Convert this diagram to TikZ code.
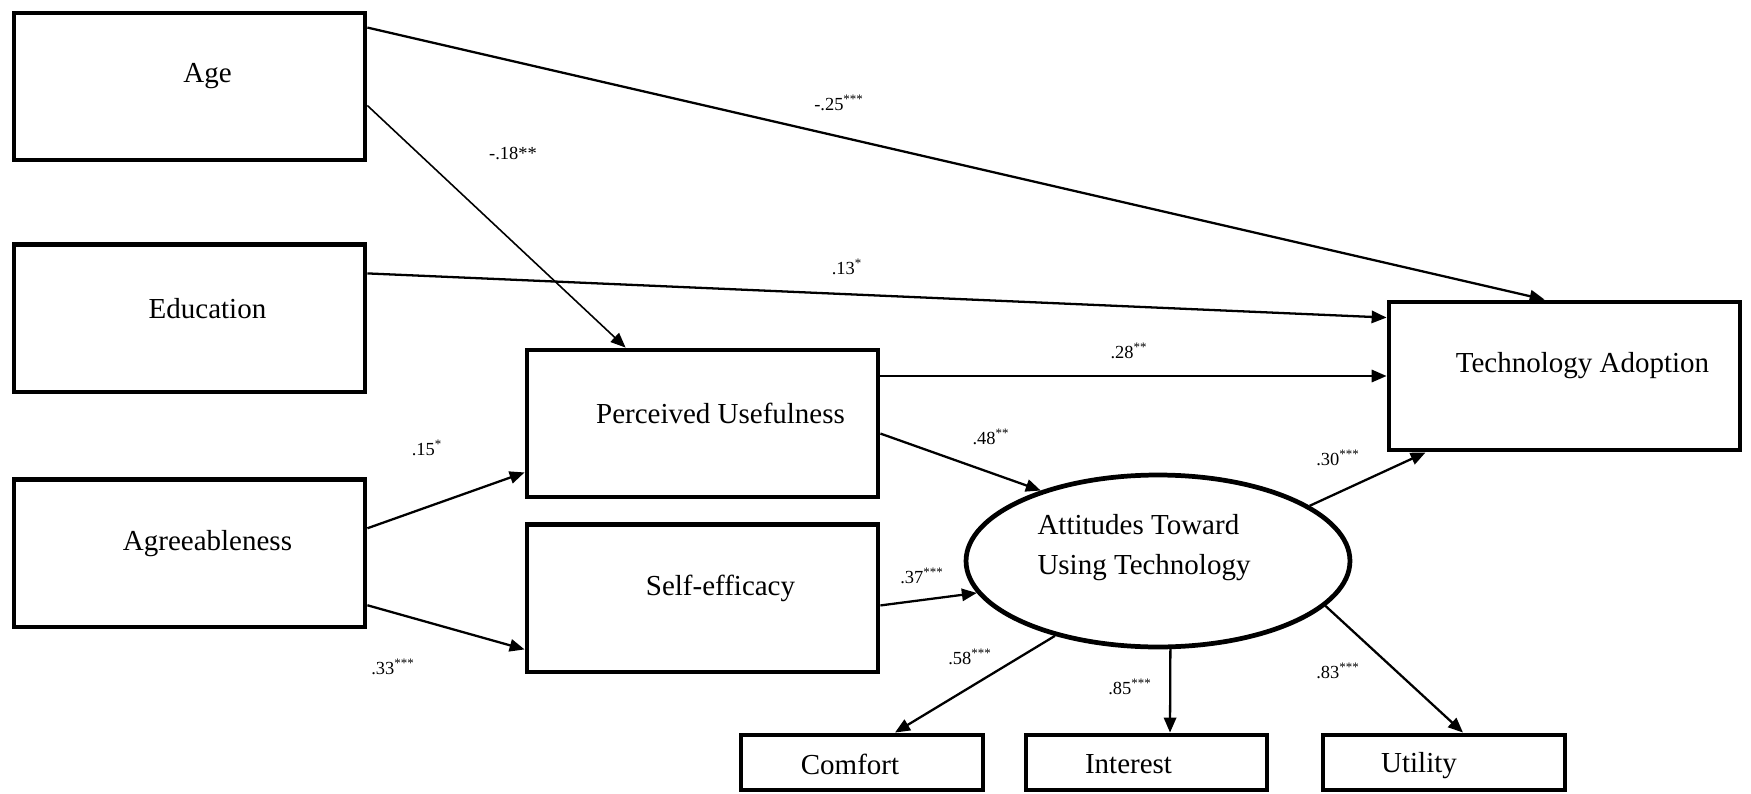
\documentclass[tikz,border=0pt]{standalone}
\usepackage{fontspec}
\setmainfont{Liberation Serif}
\usetikzlibrary{positioning,calc,arrows.meta,shapes.geometric}

\tikzset{
  box/.style={draw, line width=2.5pt, minimum width=7.03cm, minimum height=2.95cm},
  obs/.style={draw, line width=2.5pt, minimum width=4.83cm, minimum height=1.11cm},
  latent/.style={draw, ellipse, line width=2.7pt, minimum width=7.68cm, minimum height=3.44cm},
  lbl/.style={font=\fontsize{16.5}{22.7}\selectfont, shift={(18,-10)}},
  coef/.style={font=\fontsize{10.5}{12}\selectfont, inner sep=0pt},
  arr/.style={line width=1.3pt, -{Triangle[length=8.5pt, width=7pt]}},
}

\begin{document}
\begin{tikzpicture}[x=0.02cm, y=-0.02cm]
    \useasboundingbox (0,0) rectangle (1751,794);
    %% left column
    \node[box, label={[lbl, name=age-l]center:Age}] (age) at (189.5,86.5) {};
    \node[box, below=1.6cm of age, label={[lbl, name=edu-l]center:Education}] (edu) {};
    \node[box, below=1.66cm of edu, label={[lbl, name=agr-l]center:Agreeableness}] (agr) {};
    %% mediators
    \node[box, label={[lbl, name=pu-l]center:Perceived Usefulness}] (pu) at (702.5,423.5) {};
    \node[box, below=0.46cm of pu, label={[lbl, name=se-l]center:Self-efficacy}] (se) {};
    \node[box, minimum height=2.97cm, label={[lbl, name=ta-l]center:Technology Adoption}] (ta) at (1564.5,376) {};
    \node[latent, label={[lbl, align=left, shift={(-32,-3)}, name=att-l]center:Attitudes Toward\\Using Technology}] (att) at (1158,561) {};
    %% indicators
    \node[obs, label={[lbl, shift={(-30,12)}, name=com-l]center:Comfort}] (com) at (862,762.5) {};
    \node[obs, label={[lbl, shift={(-36,12)}, name=int-l]center:Interest}] (int) at (1146.5,762.5) {};
    \node[obs, label={[lbl, shift={(-43,13)}, name=uti-l]center:Utility}] (uti) at (1444,762.5) {};

    \draw[arr] ($(age.north east)+(0,17)$) -- ($(ta.north west)+(158,0)$);
    \draw[arr, line width=0.9pt] ($(age.north east)+(0,95)$) -- ($(pu.north west)+(101,0)$);
    \draw[arr] ($(edu.north east)+(0,31)$) -- ($(ta.north west)+(0,18)$);
    \draw[arr] (pu.east |- ta.west) -- (ta.west);
    \draw[arr] ($(pu.north east)+(0,86)$) -- (att.149);
    \draw[arr] ($(se.north east)+(0,83)$) -- (att.190);
    \draw[arr] ($(agr.north east)+(0,51)$) -- ($(pu.south west)+(0,-27)$);
    \draw[arr] ($(agr.north east)+(0,128)$) -- ($(se.north west)+(0,127)$);
    \draw[arr] (att.20) -- ($(ta.south west)+(39,0)$);
    \draw[arr] (att.216) -- ($(com.north)+(33,0)$);
    \draw[arr] (att.278) -- ($(int.north)+(23.5,0)$);
    \draw[arr] (att.345) -- ($(uti.north)+(19,0)$);

    %% path coefficients
    \node[coef] (c-age-ta) at (839,103) {-.25\textsuperscript{***}};
    \node[coef] (c-age-pu) at (513,153) {-.18**};
    \node[coef] (c-edu-ta) at (847,267) {.13\textsuperscript{*}};
    \node[coef] (c-pu-ta) at (1129,351) {.28\textsuperscript{**}};
    \node[coef] (c-agr-pu) at (427,448) {.15\textsuperscript{*}};
    \node[coef] (c-pu-att) at (991,437) {.48\textsuperscript{**}};
    \node[coef] (c-se-att) at (922,576) {.37\textsuperscript{***}};
    \node[coef] (c-agr-se) at (393,667) {.33\textsuperscript{***}};
    \node[coef] (c-att-ta) at (1338,458) {.30\textsuperscript{***}};
    \node[coef] (c-att-com) at (970,657) {.58\textsuperscript{***}};
    \node[coef] (c-att-int) at (1130,687) {.85\textsuperscript{***}};
    \node[coef] (c-att-uti) at (1338,671) {.83\textsuperscript{***}};
\end{tikzpicture}
\end{document}
